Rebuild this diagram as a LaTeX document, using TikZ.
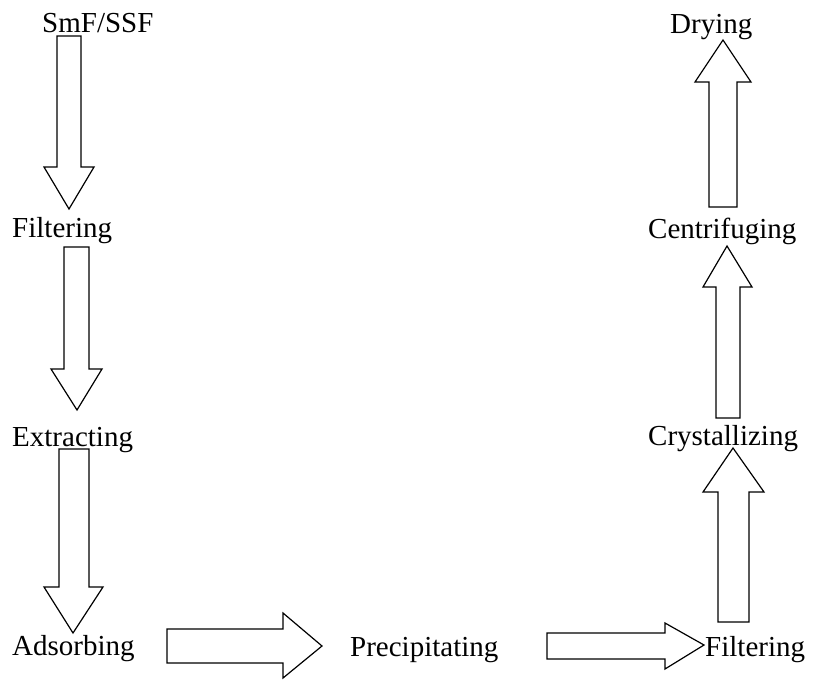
\documentclass[tikz,border=0pt]{standalone}
\usepackage{fontspec}
\setmainfont{Liberation Serif}
\usepackage{tikz}
\tikzset{
    step label/.style={anchor=base west, inner sep=0pt, font=\fontsize{29}{34}\selectfont},
    blockarrow/.style={draw=black, fill=white, line width=1.2pt, line join=miter}
}

\begin{document}
\begin{tikzpicture}[x=1pt,y=-1pt]
                    \useasboundingbox (0,0) rectangle (816,681);
%                    left column, going down
                    \draw[blockarrow] (57,36) -- (57,167) -- (44,167) -- (69,209) -- (94,167) -- (81,167) -- (81,36) -- cycle;
                    \draw[blockarrow] (64,247) -- (64,369) -- (51,369) -- (77,410) -- (102,369) -- (89,369) -- (89,247) -- cycle;
                    \draw[blockarrow] (59,449) -- (59,587) -- (44,587) -- (73,633) -- (103,587) -- (89,587) -- (89,449) -- cycle;
%                    bottom row, going right
                    \draw[blockarrow] (167,629) -- (283,629) -- (283,613) -- (322,646) -- (283,678) -- (283,663) -- (167,663) -- cycle;
                    \draw[blockarrow] (547,633) -- (665,633) -- (665,623) -- (704,645) -- (665,669) -- (665,659) -- (547,659) -- cycle;
%                    right column, going up
                    \draw[blockarrow] (718,622) -- (718,492) -- (703,492) -- (733,448) -- (764,492) -- (749,492) -- (749,622) -- cycle;
                    \draw[blockarrow] (716,418) -- (716,287) -- (703,287) -- (727,246) -- (752,287) -- (740,287) -- (740,418) -- cycle;
                    \draw[blockarrow] (709,207) -- (709,82) -- (695,82) -- (723,40) -- (751,82) -- (737,82) -- (737,207) -- cycle;

%                    steps
                    \node[step label] (smf)   at (42,32)   {SmF/SSF};
                    \node[step label] (filtA) at (12,237)  {Filtering};
                    \node[step label] (extr)  at (12,446)  {Extracting};
                    \node[step label] (adso)  at (12,655)  {Adsorbing};
                    \node[step label] (prec)  at (350,656) {Precipitating};
                    \node[step label] (filtB) at (705,656) {Filtering};
                    \node[step label] (crys)  at (648,445) {Crystallizing};
                    \node[step label] (cent)  at (648,238) {Centrifuging};
                    \node[step label] (dry)   at (670,33)  {Drying};
\end{tikzpicture}
\end{document}
